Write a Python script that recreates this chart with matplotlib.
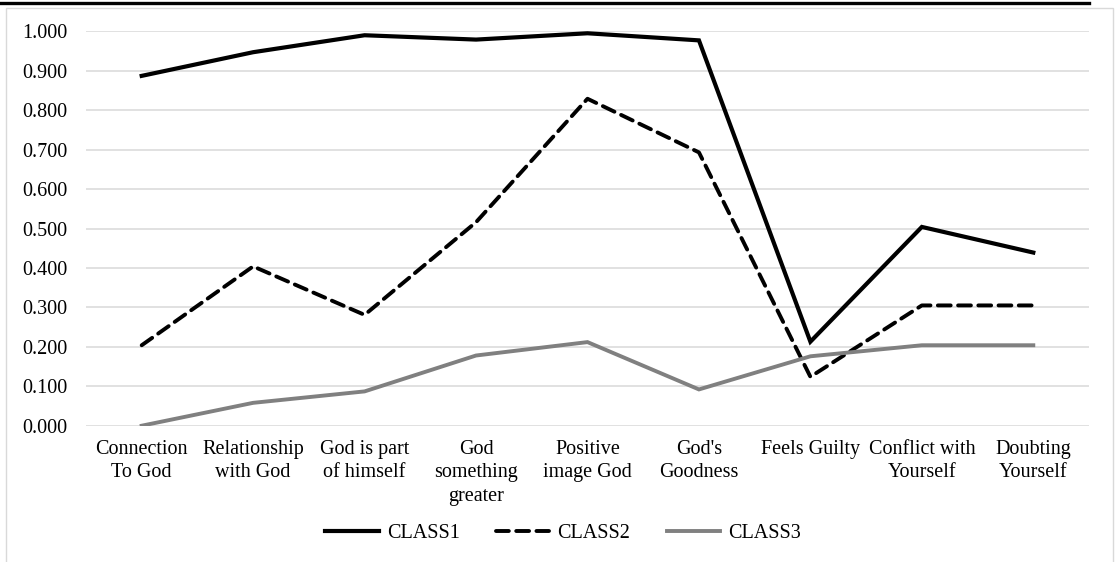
import matplotlib
matplotlib.use("Agg")
import matplotlib.pyplot as plt
from matplotlib.patches import Rectangle
from matplotlib.lines import Line2D
from matplotlib.ticker import FormatStrFormatter

# Category labels (wrapped as in the source chart)
categories = [
    "Connection\nTo God",
    "Relationship\nwith God",
    "God is part\nof himself",
    "God\nsomething\ngreater",
    "Positive\nimage God",
    "God's\nGoodness",
    "Feels Guilty",
    "Conflict with\nYourself",
    "Doubting\nYourself",
]

# Series values
class1 = [0.887, 0.947, 0.990, 0.979, 0.995, 0.977, 0.213, 0.504, 0.439]
class2 = [0.204, 0.404, 0.281, 0.516, 0.829, 0.693, 0.124, 0.305, 0.305]
class3 = [0.000, 0.058, 0.087, 0.178, 0.212, 0.092, 0.176, 0.204, 0.204]

plt.rcParams["font.family"] = ["Liberation Serif", "DejaVu Serif"]
plt.rcParams["font.size"] = 14.5

fig = plt.figure(figsize=(11.15, 5.62), dpi=100)
ax = fig.add_axes([0.0771, 0.2425, 0.8996, 0.7018])

x = list(range(len(categories)))
ax.plot(x, class1, color="black", linewidth=3.0, label="CLASS1",
        solid_joinstyle="miter")
ax.plot(x, class2, color="black", linewidth=2.8, linestyle=(0, (3.3, 1.9)),
        label="CLASS2", dash_capstyle="round")
ax.plot(x, class3, color="#808080", linewidth=2.8, label="CLASS3",
        solid_joinstyle="miter")

ax.set_xlim(-0.5, len(categories) - 0.5)
ax.set_ylim(0, 1.0)
ax.set_yticks([i / 10 for i in range(11)])
ax.yaxis.set_major_formatter(FormatStrFormatter("%.3f"))
ax.set_xticks(x)
ax.set_xticklabels(categories, linespacing=1.32, va="top")
ax.tick_params(axis="both", length=0, colors="black")
ax.tick_params(axis="y", pad=13.5)
ax.tick_params(axis="x", pad=10)

ax.grid(axis="y", color="#d9d9d9", linewidth=1.1)
ax.set_axisbelow(True)
for s in ax.spines.values():
    s.set_visible(False)

# Outer chart border and top rule
fig.patches.append(Rectangle((6 / 1115, -0.02), 1107 / 1115, 1.0058 - 8 / 562 + 0.0142,
                             transform=fig.transFigure, fill=False,
                             edgecolor="#d9d9d9", linewidth=1.0))
fig.lines.append(Line2D([0, 1089 / 1115], [1 - 2.5 / 562, 1 - 2.5 / 562],
                        transform=fig.transFigure, color="black", linewidth=2.4))

fig.legend(loc="center", bbox_to_anchor=(0.505, 0.05), ncol=3, frameon=False,
           handlelength=2.65, handletextpad=0.4, columnspacing=1.8, fontsize=14.5)

fig.savefig("out.png", dpi=100)
